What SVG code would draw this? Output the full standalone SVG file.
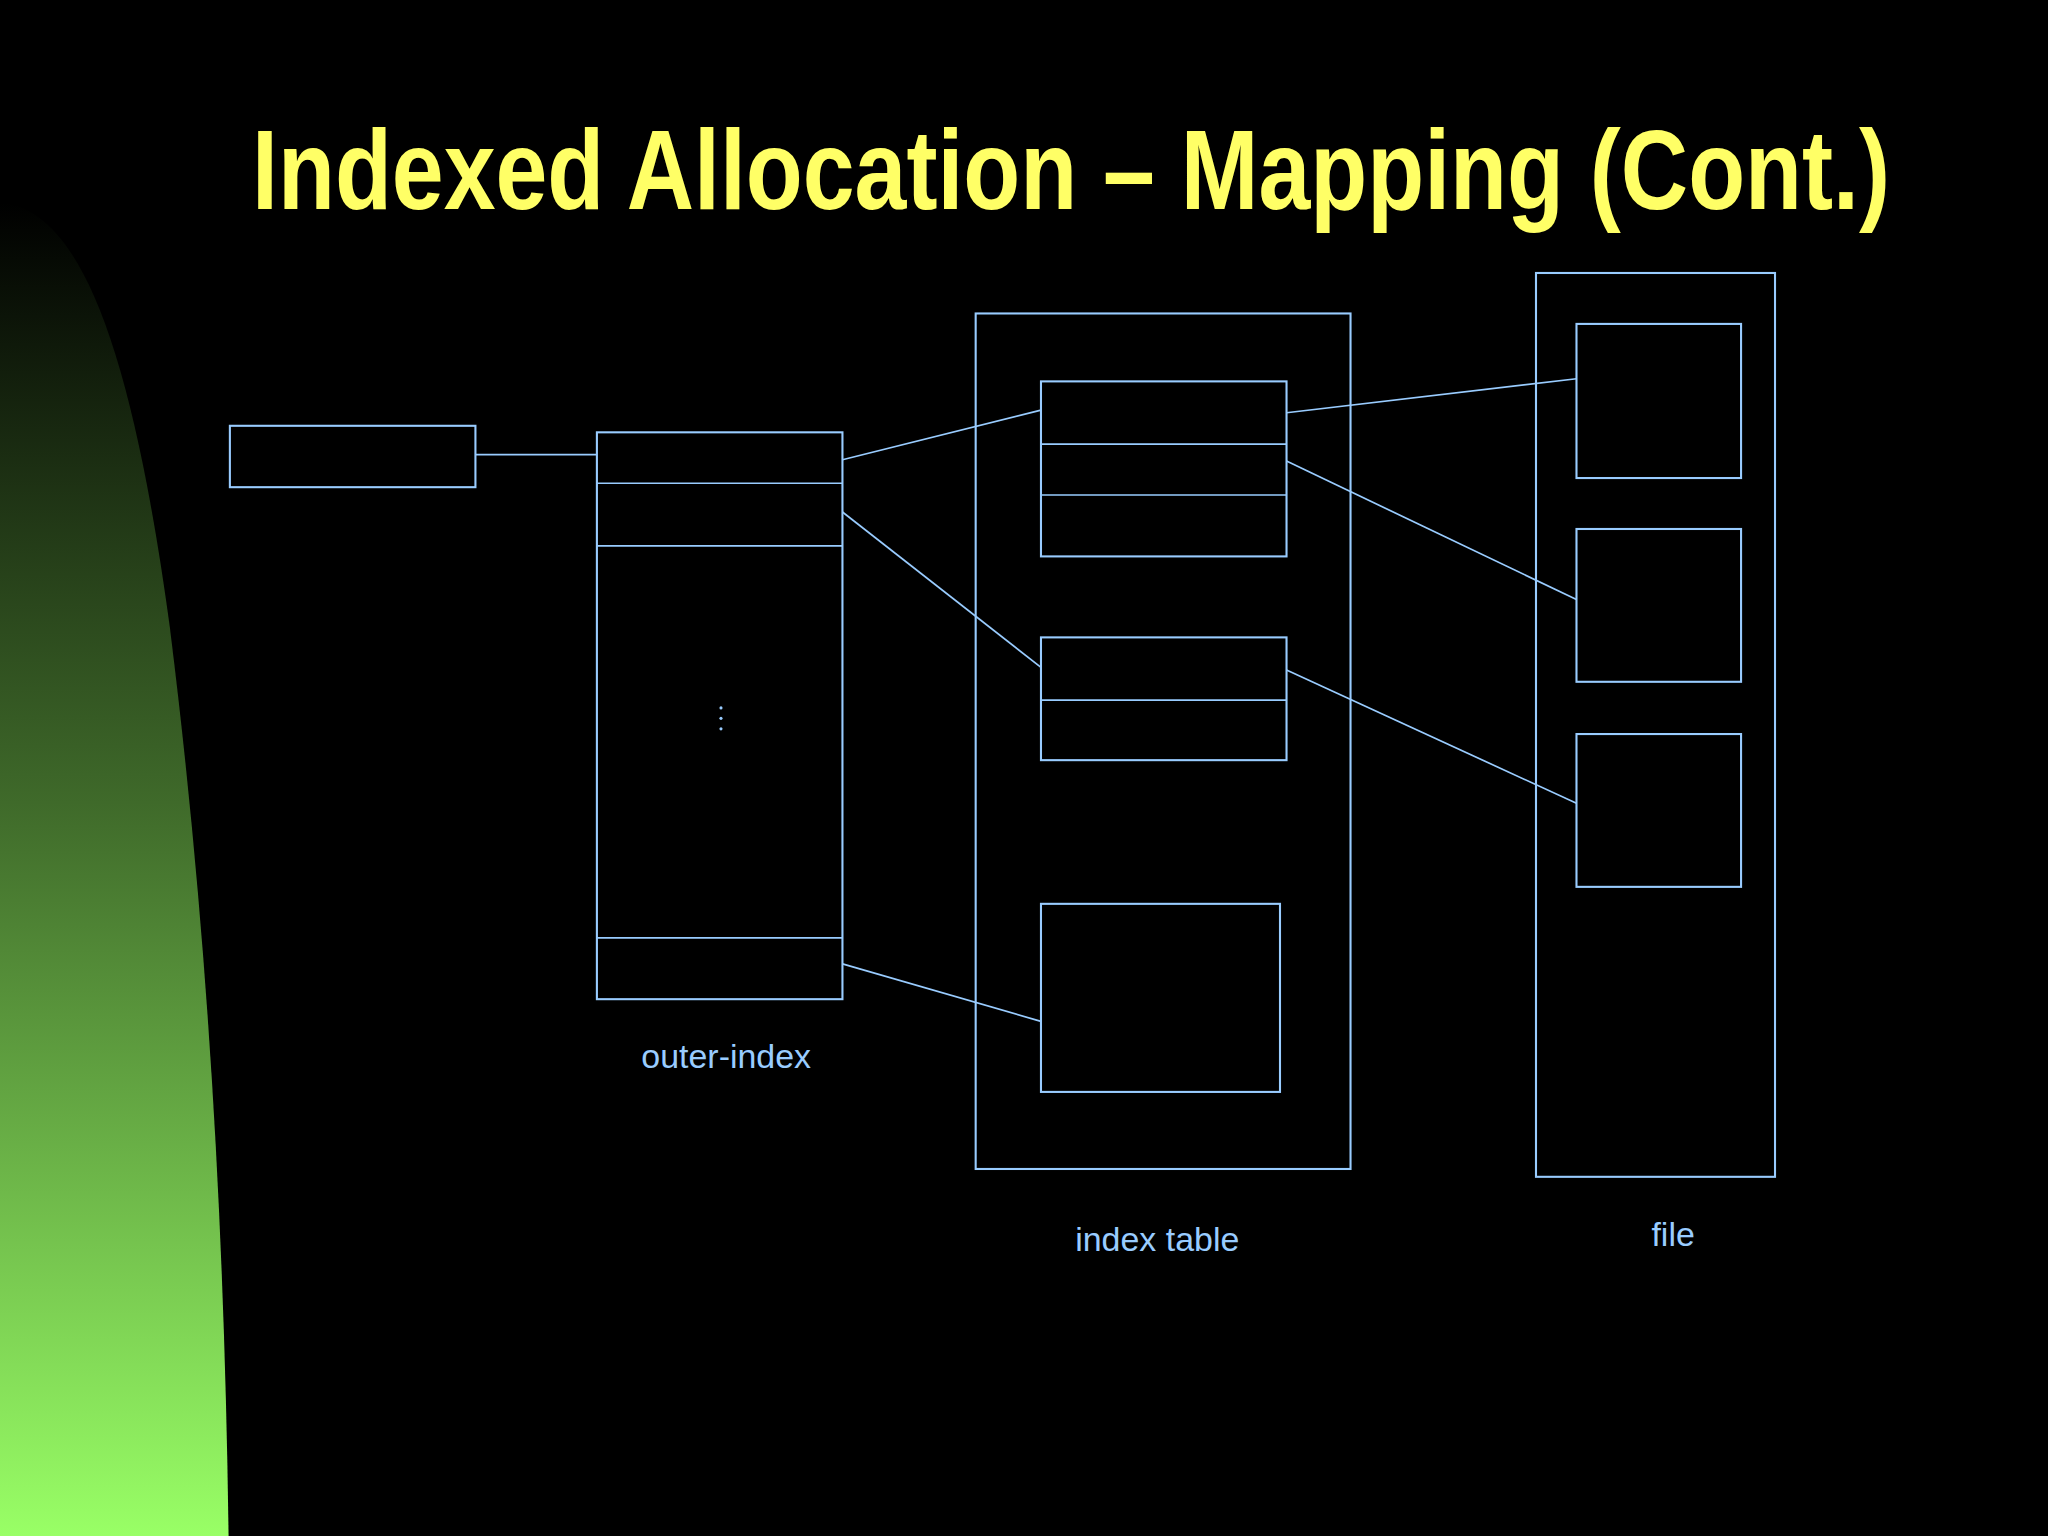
<svg xmlns="http://www.w3.org/2000/svg" width="2048" height="1536" viewBox="0 0 2048 1536">
<defs>
<linearGradient id="g" x1="0" y1="0" x2="0" y2="1">
<stop offset="0" stop-color="#000000"/>
<stop offset="0.45" stop-color="#3f6a2a"/>
<stop offset="1" stop-color="#99ff66"/>
</linearGradient>
<style>
.b{fill:none;stroke:#99ccff;stroke-width:1.6}
.l{stroke:#99ccff;stroke-width:1.3}
.t{fill:#99ccff;font-family:"Liberation Sans",Arial,sans-serif;font-size:26px;text-anchor:middle}
</style>
</defs>
<rect width="2048" height="1536" fill="#000"/>
<g transform="scale(1.30612)">
<path d="M0,155 C60,160 100,260 130,480 C160,720 172,950 175,1176 L0,1176 Z" fill="url(#g)"/>
<text x="820" y="160" fill="#ffff66" font-family="'Liberation Sans Narrow','Liberation Sans',Arial,sans-serif" font-weight="bold" font-size="86" text-anchor="middle" textLength="1254" lengthAdjust="spacingAndGlyphs">Indexed Allocation – Mapping (Cont.)</text>
<g id="pointer"><rect class="b" x="176" y="326" width="188" height="47"/></g>
<g id="outer-index">
<rect class="b" x="457" y="331" width="188" height="434"/>
<line class="l" x1="457" y1="370" x2="645" y2="370"/>
<line class="l" x1="457" y1="418" x2="645" y2="418"/>
<line class="l" x1="457" y1="718" x2="645" y2="718"/>
<g fill="#99ccff"><circle cx="552" cy="542" r="1.2"/><circle cx="552" cy="550" r="1.2"/><circle cx="552" cy="558" r="1.2"/></g>
<text class="t" x="556" y="818">outer-index</text>
</g>
<g id="index-table">
<rect class="b" x="747" y="240" width="287" height="655"/>
<rect class="b" x="797" y="292" width="188" height="134"/>
<line class="l" x1="797" y1="340" x2="985" y2="340"/>
<line class="l" x1="797" y1="379" x2="985" y2="379"/>
<rect class="b" x="797" y="488" width="188" height="94"/>
<line class="l" x1="797" y1="536" x2="985" y2="536"/>
<rect class="b" x="797" y="692" width="183" height="144"/>
<text class="t" x="886" y="958">index table</text>
</g>
<g id="file">
<rect class="b" x="1176" y="209" width="183" height="692"/>
<rect class="b" x="1207" y="248" width="126" height="118"/>
<rect class="b" x="1207" y="405" width="126" height="117"/>
<rect class="b" x="1207" y="562" width="126" height="117"/>
<text class="t" x="1281" y="954">file</text>
</g>
<g id="connectors">
<line class="l" x1="364" y1="348" x2="457" y2="348"/>
<line class="l" x1="645" y1="352" x2="797" y2="314"/>
<line class="l" x1="645" y1="392" x2="797" y2="511"/>
<line class="l" x1="645" y1="738" x2="797" y2="782"/>
<line class="l" x1="985" y1="316" x2="1207" y2="290"/>
<line class="l" x1="985" y1="353" x2="1207" y2="459"/>
<line class="l" x1="985" y1="513" x2="1207" y2="615"/>
</g>
</g>
</svg>
